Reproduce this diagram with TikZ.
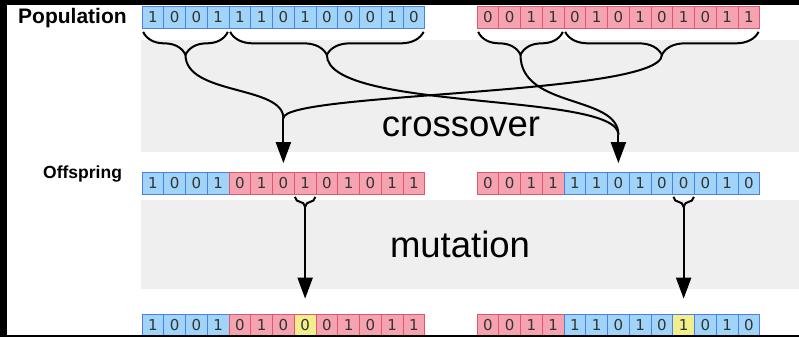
\documentclass[tikz,border=0pt]{standalone}
\usepackage{fontspec}
\setmainfont{Liberation Sans}
\newfontfamily\digitfont{DejaVu Sans}
\usetikzlibrary{decorations.pathreplacing,arrows.meta,calc}
\definecolor{cblue}{HTML}{A0D4F8}
\definecolor{cbluedark}{HTML}{4D7FE6}
\definecolor{cred}{HTML}{F5A3B0}
\definecolor{creddark}{HTML}{E0566B}
\definecolor{cyel}{HTML}{F2EE8C}
\definecolor{bandgray}{HTML}{EFEFEF}
\begin{document}
\begin{tikzpicture}[x=1pt,y=-1pt,
  cell/.style={draw, line width=0.7pt, minimum width=21.75pt, minimum height=22pt, inner sep=0pt,
    font=\digitfont\fontsize{15}{15}\selectfont, text=black!80},
  bl/.style={cell, fill=cblue, draw=cbluedark},
  rd/.style={cell, fill=cred, draw=creddark},
  ybl/.style={cell, fill=cyel, draw=cbluedark},
  yrd/.style={cell, fill=cyel, draw=creddark},
  bigbrace/.style={decorate, decoration={brace, mirror, amplitude=23pt}, line width=2pt},
  smallbrace/.style={decorate, decoration={brace, mirror, amplitude=10pt}, line width=2pt},
  link/.style={line width=2pt},
  arr/.style={line width=2pt, -{Triangle[width=15pt,length=21pt]}},
  lbl/.style={inner sep=0pt, font=\bfseries},
  big/.style={inner sep=0pt, font=\fontsize{36.5}{36.5}\selectfont},
]
\useasboundingbox (0,0) rectangle (799,337);
% background
\fill[black] (0,0) rectangle (799,337);
\fill[white] (7,5) rectangle (799,335);
\fill[bandgray] (141,40) rectangle (799,152);
\fill[bandgray] (141,200) rectangle (799,289);

% population
\foreach \b [count=\i] in {1,0,0,1,1,1,0,1,0,0,0,1,0}
  \node[bl] (p1-\i) at ({142+(\i-0.5)*21.75},17) {\b};
\foreach \b [count=\i] in {0,0,1,1,0,1,0,1,0,1,0,1,1}
  \node[rd] (p2-\i) at ({477+(\i-0.5)*21.75},17) {\b};
% offspring
\foreach \b/\s [count=\i] in {1/bl,0/bl,0/bl,1/bl,0/rd,1/rd,0/rd,1/rd,0/rd,1/rd,0/rd,1/rd,1/rd}
  \node[\s] (o1-\i) at ({142+(\i-0.5)*21.75},183.5) {\b};
\foreach \b/\s [count=\i] in {0/rd,0/rd,1/rd,1/rd,1/bl,1/bl,0/bl,1/bl,0/bl,0/bl,0/bl,1/bl,0/bl}
  \node[\s] (o2-\i) at ({477+(\i-0.5)*21.75},183.5) {\b};
% mutated
\foreach \b/\s [count=\i] in {1/bl,0/bl,0/bl,1/bl,0/rd,1/rd,0/rd,0/yrd,0/rd,1/rd,0/rd,1/rd,1/rd}
  \node[\s] (m1-\i) at ({142+(\i-0.5)*21.75},325) {\b};
\foreach \b/\s [count=\i] in {0/rd,0/rd,1/rd,1/rd,1/bl,1/bl,0/bl,1/bl,0/bl,1/ybl,0/bl,1/bl,0/bl}
  \node[\s] (m2-\i) at ({477+(\i-0.5)*21.75},325) {\b};

% labels
\node[lbl, anchor=base west, font=\bfseries\fontsize{21}{21}\selectfont] (lp) at (18,24) {Population};
\node[lbl, anchor=base west, font=\bfseries\fontsize{17.5}{17.5}\selectfont] (lo) at (43,178) {Offspring};
\node[big, anchor=base] (xo) at (461,136) {crossover};
\node[big, anchor=base] (mu) at (460,257) {mutation};

% braces on parents
\draw[bigbrace] ([xshift=1.5pt,yshift=-3.5pt]p1-1.south west) -- ([xshift=-1.5pt,yshift=-3.5pt]p1-4.south east);
\draw[bigbrace] ([xshift=1.5pt,yshift=-3.5pt]p1-5.south west) -- ([xshift=-1.5pt,yshift=-3.5pt]p1-13.south east);
\draw[bigbrace] ([xshift=1.5pt,yshift=-3.5pt]p2-1.south west) -- ([xshift=-1.5pt,yshift=-3.5pt]p2-4.south east);
\draw[bigbrace] ([xshift=1.5pt,yshift=-3.5pt]p2-5.south west) -- ([xshift=-1.5pt,yshift=-3.5pt]p2-13.south east);
\coordinate (t1) at ($(p1-1.south west)!0.5!(p1-4.south east)+(0,26.5)$);
\coordinate (t2) at ($(p1-5.south west)!0.5!(p1-13.south east)+(0,26.5)$);
\coordinate (t3) at ($(p2-1.south west)!0.5!(p2-4.south east)+(0,26.5)$);
\coordinate (t4) at ($(p2-5.south west)!0.5!(p2-13.south east)+(0,26.5)$);
\coordinate (jL) at ($(o1-7.north)+(0,-54)$);
\coordinate (jR) at ($(o2-7.north)+(0,-37.5)$);

% crossover links
\draw[link] (t1) .. controls +(0,40.5) and +(0,-33) .. (jL);
\draw[link] (t4) .. controls +(0,40.5) and +(0,-26) .. (jL);
\draw[link] (t2) .. controls +(0,57) and +(0,-43) .. (jR);
\draw[link] (t3) .. controls +(0,54) and +(0,-40) .. (jR);
\draw[arr] (jL) -- ([yshift=9pt]o1-7.north);
\draw[arr] (jR) -- ([yshift=9pt]o2-7.north);

% mutation
\draw[smallbrace] ([xshift=1pt,yshift=-2pt]o1-8.south west) -- ([xshift=-1pt,yshift=-2pt]o1-8.south east);
\draw[smallbrace] ([xshift=1pt,yshift=-2pt]o2-10.south west) -- ([xshift=-1pt,yshift=-2pt]o2-10.south east);
\coordinate (mL) at ($(o1-8.south)+(0,12)$);
\coordinate (mR) at ($(o2-10.south)+(0,12)$);
\draw[arr] (mL) -- ([yshift=15pt]m1-8.north);
\draw[arr] (mR) -- ([yshift=15pt]m2-10.north);

% frame
\fill[black] (0,0) rectangle (799,5);
\fill[black] (0,335) rectangle (799,337);
\fill[black] (0,0) rectangle (7,337);
\end{tikzpicture}
\end{document}
